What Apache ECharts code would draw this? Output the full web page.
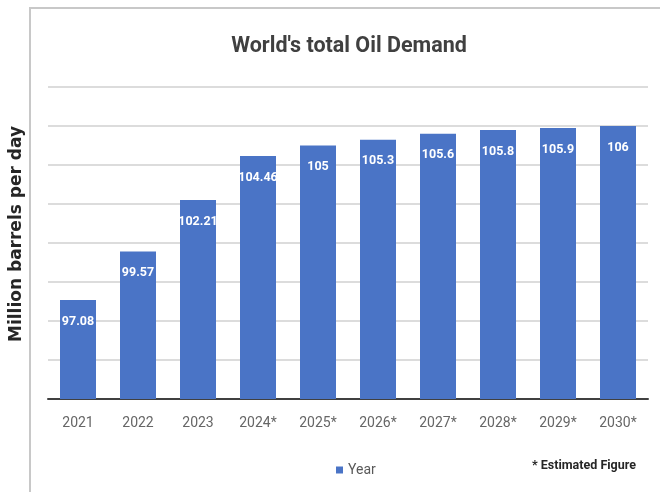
<!DOCTYPE html>
<html>
<head>
<meta charset="utf-8">
<script src="https://cdn.jsdelivr.net/npm/echarts@6/dist/echarts.min.js"></script>
<style>
html,body{margin:0;padding:0;background:#fff;}
#chart{width:660px;height:492px;}
</style>
</head>
<body>
<div id="chart"></div>
<script>
var categories = ['2021','2022','2023','2024*','2025*','2026*','2027*','2028*','2029*','2030*'];
var demand = [97.08, 99.57, 102.21, 104.46, 105, 105.3, 105.6, 105.8, 105.9, 106];
var seriesName = 'Year';
var titleText = "World's total Oil Demand";
var yAxisName = 'Million barrels per day';
var noteText = '* Estimated Figure';

var narrow = 'Roboto, "Noto Sans", sans-serif';
var chart = echarts.init(document.getElementById('chart'));
chart.setOption({
  backgroundColor: '#fff',
  animation: false,
  title: {
    text: titleText,
    left: 344, top: 31, textAlign: 'center',
    textStyle: {fontFamily: narrow, fontSize: 21.5, fontWeight: 'bold', color: '#404040'}
  },
  grid: {left: 48, right: 12, top: 87, bottom: 93},
  legend: {
    data: [seriesName],
    left: 331, top: 458,
    icon: 'rect', itemWidth: 7, itemHeight: 7, itemGap: 5,
    textStyle: {fontFamily: narrow, fontSize: 14, color: '#595959'}
  },
  xAxis: {
    type: 'category',
    data: categories,
    axisLine: {lineStyle: {color: '#404040', width: 2}},
    axisTick: {show: false},
    axisLabel: {color: '#666666', fontFamily: narrow, fontSize: 14, margin: 17}
  },
  yAxis: {
    type: 'value',
    min: 92, max: 108, interval: 2,
    axisLine: {show: false},
    axisTick: {show: false},
    axisLabel: {show: false},
    splitLine: {lineStyle: {color: '#d0d0d0', width: 1.5}}
  },
  series: [{
    name: seriesName,
    type: 'bar',
    data: demand,
    barCategoryGap: '40%',
    itemStyle: {color: '#4a74c6'},
    label: {
      show: true, position: 'insideTop', distance: 15,
      color: '#fff', fontFamily: narrow, fontSize: 12.5, fontWeight: 'bold'
    }
  }],
  graphic: [
    {type: 'polyline', silent: true, z: -1,
     shape: {points: [[30, 492], [30, 8], [660, 8]]},
     style: {stroke: '#c8c8c8', lineWidth: 2, fill: null}},
    {type: 'text', x: 17, y: 234, rotation: Math.PI / 2,
     style: {text: yAxisName, fontFamily: '"DejaVu Sans", sans-serif', fontSize: 17, fontWeight: 'bold',
             fill: '#262626', align: 'center', verticalAlign: 'middle'}},
    {type: 'text', left: 532, top: 459,
     style: {text: noteText, fontFamily: narrow, fontSize: 12.5, fontWeight: 'bold', fill: '#262626'}}
  ]
});
</script>
</body>
</html>
